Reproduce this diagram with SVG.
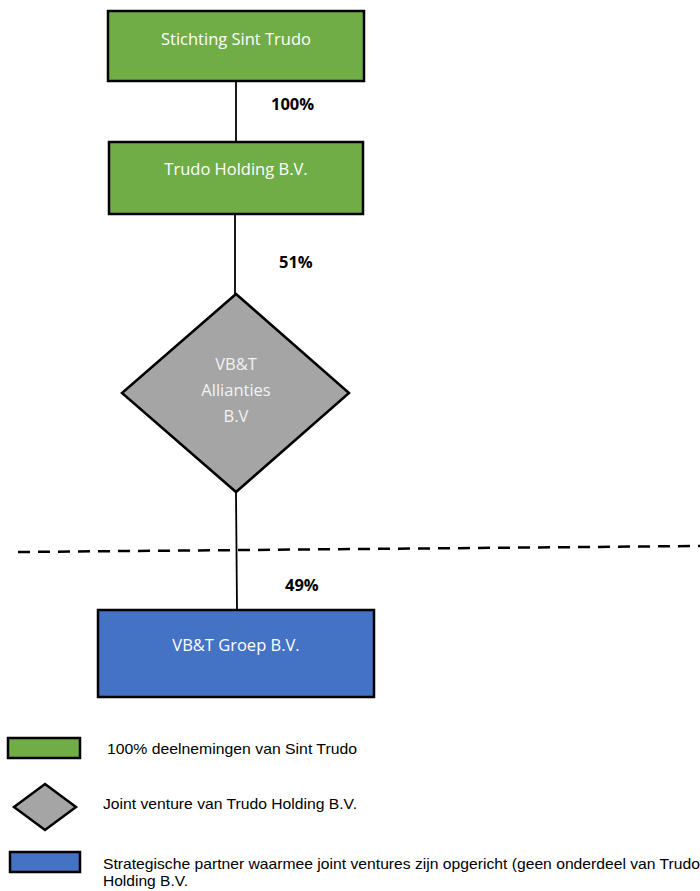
<svg xmlns="http://www.w3.org/2000/svg" width="700" height="891" viewBox="0 0 700 891">
<style>
.box{stroke:#000;stroke-width:2.5}
.g{fill:#70AD47}.gr{fill:#A5A5A5}.b{fill:#4472C4}
.t{font-family:"Open Sans",sans-serif;font-size:16.5px;fill:#fff;text-anchor:middle}
.tg{fill:#f2f2f2}
.p{font-family:"Open Sans",sans-serif;font-size:16.5px;font-weight:bold;fill:#000}
.l{font-family:"Liberation Sans",Arial,sans-serif;font-size:15px;fill:#000}
.c{stroke:#000;stroke-width:1.8;fill:none}
</style>
<rect width="700" height="891" fill="#fff"/>
<g id="connectors">
<line class="c" x1="236" y1="82" x2="236" y2="142"/>
<line class="c" x1="235" y1="214" x2="235" y2="294"/>
<line class="c" x1="236" y1="492" x2="237" y2="610"/>
<line x1="18" y1="552" x2="700" y2="546" stroke="#000" stroke-width="2.5" stroke-dasharray="12,8"/>
</g>
<g id="labels">
<text class="p" x="271" y="110">100%</text>
<text class="p" x="279" y="268">51%</text>
<text class="p" x="285" y="591">49%</text>
</g>
<g id="stichting">
<rect class="box g" x="108" y="11" width="256" height="70"/>
<text class="t" x="236" y="41" dominant-baseline="middle">Stichting Sint Trudo</text>
</g>
<g id="holding">
<rect class="box g" x="109" y="142" width="254" height="72"/>
<text class="t" x="236" y="171" dominant-baseline="middle">Trudo Holding B.V.</text>
</g>
<g id="allianties">
<polygon class="box gr" points="236,294 349,393 236,492 122,393"/>
<text class="t tg" x="236" y="366" dominant-baseline="middle">VB&amp;T</text>
<text class="t tg" x="236" y="392" dominant-baseline="middle">Allianties</text>
<text class="t tg" x="236" y="418" dominant-baseline="middle">B.V</text>
</g>
<g id="groep">
<rect class="box b" x="98" y="610" width="276" height="87"/>
<text class="t" x="236" y="647" dominant-baseline="middle">VB&amp;T Groep B.V.</text>
</g>
<g id="legend">
<rect class="box g" x="8" y="738" width="72" height="20"/>
<text class="l" x="107" y="754" textLength="250" lengthAdjust="spacingAndGlyphs">100% deelnemingen van Sint Trudo</text>
<polygon class="box gr" points="45,784 76,807 45,830 14,807"/>
<text class="l" x="103" y="809" textLength="254" lengthAdjust="spacingAndGlyphs">Joint venture van Trudo Holding B.V.</text>
<rect class="box b" x="10" y="852" width="70" height="20"/>
<text class="l" x="103" y="869" textLength="597" lengthAdjust="spacingAndGlyphs">Strategische partner waarmee joint ventures zijn opgericht (geen onderdeel van Trudo</text>
<text class="l" x="103" y="886" textLength="85" lengthAdjust="spacingAndGlyphs">Holding B.V.</text>
</g>
</svg>
